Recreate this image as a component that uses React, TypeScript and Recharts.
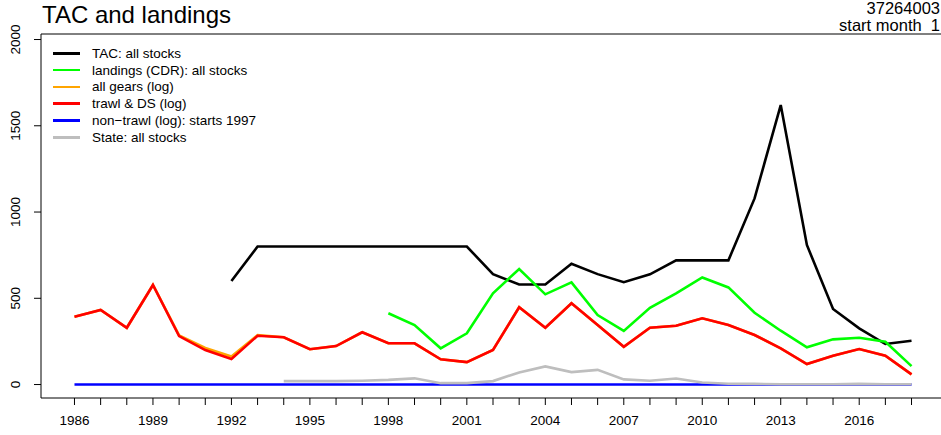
import { LineChart, Line, XAxis, YAxis, ReferenceLine } from "recharts";

const years = [
  1986, 1987, 1988, 1989, 1990, 1991, 1992, 1993, 1994, 1995, 1996, 1997, 1998, 1999, 2000, 2001, 2002,
  2003, 2004, 2005, 2006, 2007, 2008, 2009, 2010, 2011, 2012, 2013, 2014, 2015, 2016, 2017, 2018,
];
const tac = [
  null, null, null, null, null, null, 600, 800, 800, 800, 800, 800, 800, 800, 800, 800, 640,
  580, 580, 700, 640, 593, 639, 720, 720, 720, 1079, 1620, 809, 438, 326, 235, 254,
];
const landings = [
  null, null, null, null, null, null, null, null, null, null, null, null, 413, 345, 210, 297, 529,
  670, 523, 592, 403, 311, 445, 529, 621, 563, 416, 312, 216, 262, 271, 248, 107,
];
const allGears = [
  393, 432, 329, 577, 285, 212, 162, 286, 274, 205, 223, 303, 239, 239, 146, 130, 200,
  448, 329, 471, 345, 219, 329, 341, 384, 345, 287, 210, 119, 167, 206, 167, 59,
];
const trawl = [
  393, 432, 329, 577, 281, 200, 148, 283, 274, 205, 223, 303, 239, 239, 146, 130, 200,
  448, 329, 471, 345, 219, 329, 341, 384, 345, 287, 210, 119, 167, 206, 167, 59,
];
const nonTrawl = [
  0, 0, 0, 0, 0, 0, 0, 0, 0, 0, 0, 0, 0, 0, 0, 0, 0,
  0, 0, 0, 0, 0, 0, 0, 0, 0, 0, 0, 0, 0, 0, 0, 0,
];
const state = [
  null, null, null, null, null, null, null, null, 20, 20, 20, 22, 27, 36, 8, 8, 20,
  70, 105, 72, 85, 30, 22, 35, 12, 5, 4, 2, 2, 2, 4, 2, 2,
];
const yTicks = [0, 500, 1000, 1500, 2000];

const series = [
  { key: "tac", name: "TAC: all stocks", color: "#000000" },
  { key: "landings", name: "landings (CDR): all stocks", color: "#00ff00" },
  { key: "allGears", name: "all gears (log)", color: "#ffa500" },
  { key: "trawl", name: "trawl & DS (log)", color: "#ff0000" },
  { key: "nonTrawl", name: "non\u2212trawl (log): starts 1997", color: "#0000ff" },
  { key: "state", name: "State: all stocks", color: "#bebebe" },
];

const data = years.map((year, i) => ({
  year,
  tac: tac[i],
  landings: landings[i],
  allGears: allGears[i],
  trawl: trawl[i],
  nonTrawl: nonTrawl[i],
  state: state[i],
}));

const FONT = '"Liberation Sans", Arial, Helvetica, sans-serif';

function XTick(props: any) {
  const { x, y, payload } = props;
  if ((payload.value - 1986) % 3 !== 0) return null;
  return (
    <text x={x} y={y + 18} textAnchor="middle" fontSize={13.5} fontFamily={FONT} fill="#000">
      {payload.value}
    </text>
  );
}

function YTick(props: any) {
  const { y, payload } = props;
  return (
    <text
      x={20}
      y={y}
      textAnchor="middle"
      transform={`rotate(-90 20 ${y})`}
      fontSize={13.5}
      fontFamily={FONT}
      fill="#000"
    >
      {payload.value}
    </text>
  );
}

function LegendBox() {
  return (
    <div
      style={{
        position: "absolute",
        left: 53,
        top: 45,
        fontFamily: FONT,
        fontSize: 13.5,
        color: "#000",
        pointerEvents: "none",
      }}
    >
      {series.map((s) => (
        <div key={s.key} style={{ display: "flex", alignItems: "center", height: 16.8 }}>
          <div style={{ width: 27, height: 2.6, background: s.color, marginRight: 12 }} />
          <span style={{ whiteSpace: "pre" }}>{s.name}</span>
        </div>
      ))}
    </div>
  );
}

export default function App() {
  return (
    <div
      style={{
        position: "absolute",
        left: 0,
        top: 0,
        width: 941,
        height: 435,
        overflow: "hidden",
        background: "#fff",
      }}
    >
      <LineChart
        width={960}
        height={435}
        data={data}
        margin={{ top: 34, right: 15, bottom: 0, left: 0 }}
      >
        <XAxis
          dataKey="year"
          type="number"
          domain={[1984.72, 2019.28]}
          allowDataOverflow
          ticks={years}
          interval={0}
          tickSize={7}
          tickMargin={2}
          height={37}
          stroke="#000"
          tick={<XTick />}
        />
        <YAxis
          type="number"
          domain={[-78, 2032]}
          allowDataOverflow
          ticks={yTicks}
          interval={0}
          width={41}
          tickSize={7}
          stroke="#000"
          tick={<YTick />}
        />
        <ReferenceLine y={2032} stroke="#000" strokeWidth={1} />
        {series.map((s) => (
          <Line
            key={s.key}
            type="linear"
            dataKey={s.key}
            name={s.name}
            stroke={s.color}
            strokeWidth={2.6}
            dot={false}
            activeDot={false}
            isAnimationActive={false}
          />
        ))}
      </LineChart>
      <LegendBox />
      <svg
        width={941}
        height={435}
        style={{ position: "absolute", left: 0, top: 0, pointerEvents: "none" }}
      >
        <text x={42} y={23} fontSize={24} fontFamily={FONT} fill="#000">
          TAC and landings
        </text>
        <text x={940} y={14} textAnchor="end" fontSize={16.5} fontFamily={FONT} fill="#000">
          37264003
        </text>
        <text
          x={940}
          y={31}
          textAnchor="end"
          fontSize={16.5}
          fontFamily={FONT}
          fill="#000"
          style={{ whiteSpace: "pre" }}
        >
          start month  1
        </text>
      </svg>
    </div>
  );
}
